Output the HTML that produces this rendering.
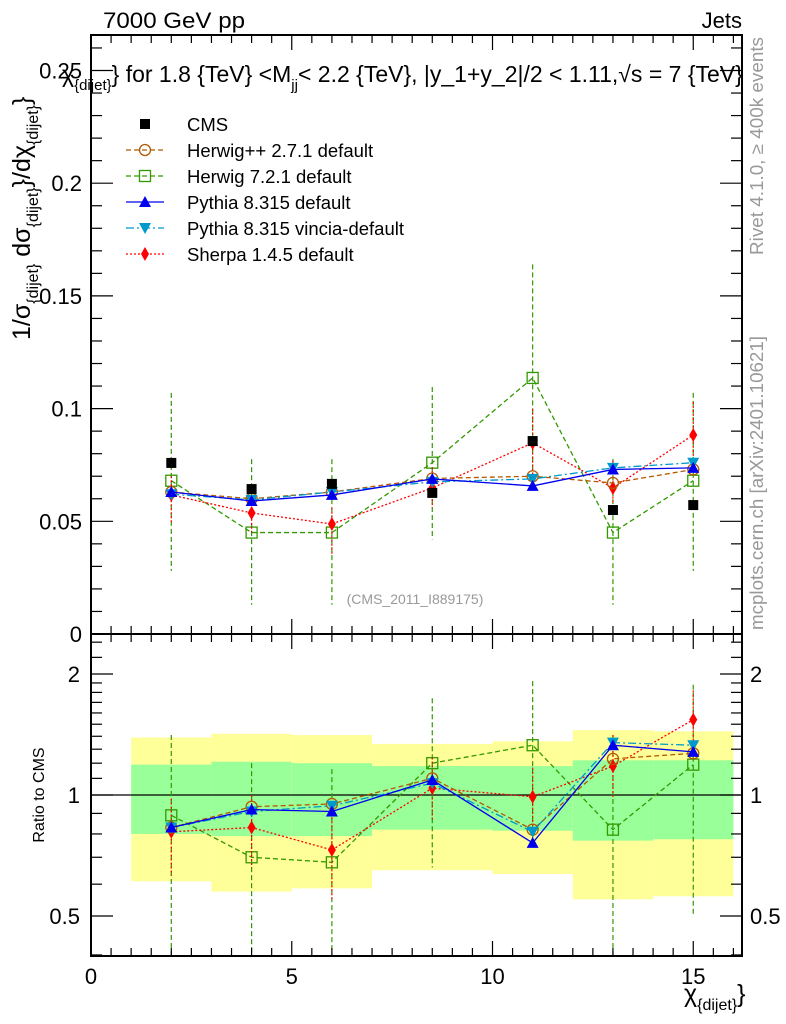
<!DOCTYPE html>
<html><head><meta charset="utf-8"><style>
body{margin:0;background:#fff}
svg{display:block;font-family:"Liberation Sans",sans-serif}
</style></head><body>
<svg id="chart" width="786" height="1024" viewBox="0 0 786 1024" xmlns="http://www.w3.org/2000/svg">
<g id="bands"></g>
<g id="marks"></g>
<g id="axes"></g>
<text x="103" y="28" font-size="22" textLength="142" lengthAdjust="spacingAndGlyphs">7000 GeV pp</text>
<text x="742" y="28" font-size="22" text-anchor="end">Jets</text>
<text x="62" y="82" font-size="23">χ<tspan font-size="15" dy="8">{dijet}</tspan><tspan dy="-8">}   for 1.8 {TeV} &lt;M</tspan><tspan font-size="15" dy="8">jj</tspan><tspan dy="-8">&lt; 2.2 {TeV}, |y_1+y_2|/2 &lt; 1.11,√s = 7 {TeV}</tspan></text>
<text transform="translate(30,340) rotate(-90)" font-size="25">1/σ<tspan font-size="16" dy="8">{dijet}</tspan><tspan dy="-8"> dσ</tspan><tspan font-size="16" dy="8">{dijet}</tspan><tspan dy="-8">}/dχ</tspan><tspan font-size="16" dy="8">{dijet}</tspan><tspan dy="-8">}</tspan></text>
<text transform="translate(44,795) rotate(-90)" font-size="16" text-anchor="middle">Ratio to CMS</text>
<text x="684" y="1002" font-size="25">χ<tspan font-size="16" dy="8">{dijet}</tspan><tspan dy="-8">}</tspan></text>
<text transform="translate(763,255) rotate(-90)" font-size="18" fill="#999" textLength="218" lengthAdjust="spacingAndGlyphs">Rivet 4.1.0, ≥ 400k events</text>
<text transform="translate(763,630) rotate(-90)" font-size="18" fill="#999" textLength="294" lengthAdjust="spacingAndGlyphs">mcplots.cern.ch [arXiv:2401.10621]</text>
<text x="415" y="604" font-size="14" fill="#999" text-anchor="middle">(CMS_2011_I889175)</text>
<g id="legend"></g>
</svg>
<script>
const xPoints=[2,4,6,8.5,11,13,15];
const binEdges=[1,3,5,7,10,12,14,16];
const cms=[0.0759,0.0643,0.0666,0.0626,0.0856,0.055,0.0572];
const herwigpp=[0.063,0.060,0.063,0.069,0.070,0.067,0.073];
const herwig7=[0.068,0.045,0.045,0.076,0.1136,0.045,0.068];
const herwig7Up=[0.107,0.0776,0.0776,0.1096,0.164,0.0776,0.107];
const herwig7Dn=[0.028,0.013,0.013,0.042,0.065,0.013,0.028];
const pythia=[0.063,0.059,0.0617,0.0688,0.0657,0.073,0.0737];
const vincia=[0.062,0.0595,0.063,0.0675,0.0688,0.0737,0.076];
const sherpa=[0.0617,0.0537,0.0488,0.0648,0.0848,0.0648,0.0883];
const sherpaUp=[0.070,0.060,0.056,0.074,0.100,0.077,0.103];
const sherpaDn=[0.049,0.045,0.035,0.056,0.070,0.058,0.072];
const rHerwigpp=[0.83,0.935,0.95,1.10,0.82,1.23,1.27];
const rHerwig7=[0.89,0.70,0.68,1.20,1.33,0.82,1.19];
const rHerwig7Up=[1.41,1.20,1.16,1.74,1.92,1.41,1.88];
const rHerwig7Dn=[0.3,0.3,0.3,0.66,0.74,0.3,0.5];
const rPythia=[0.83,0.92,0.91,1.09,0.76,1.33,1.28];
const rVincia=[0.83,0.91,0.94,1.07,0.81,1.35,1.33];
const rSherpa=[0.81,0.83,0.73,1.04,0.99,1.18,1.54];
const rSherpaUp=[0.98,1.0,0.9,1.24,1.17,1.41,1.82];
const rSherpaDn=[0.63,0.66,0.55,0.86,0.82,0.98,1.3];
const yellowTop=[1.39,1.42,1.41,1.34,1.36,1.45,1.44];
const yellowBot=[0.61,0.575,0.586,0.65,0.636,0.55,0.56];
const greenTop=[1.19,1.21,1.20,1.18,1.18,1.22,1.22];
const greenBot=[0.80,0.79,0.79,0.82,0.815,0.77,0.776];
const xTicks=[0,5,10,15];
const yTicks=[0,0.05,0.1,0.15,0.2,0.25];
const yTickLabels=["0","0.05","0.1","0.15","0.2","0.25"];
const rTicks=[0.5,1,2];
const rTickLabels=["0.5","1","2"];

const NS="http://www.w3.org/2000/svg";
const L=91,R=742,T=35,MB=634,RB=956;
const X=v=>L+v*40.15;
const Y=v=>MB-v*2254;
const RY=v=>795-Math.log2(v)*121;
const clampR=y=>Math.max(634,Math.min(RB,y));
function el(p,tag,a){const e=document.createElementNS(NS,tag);for(const k in a)e.setAttribute(k,a[k]);p.appendChild(e);return e;}
const bands=document.getElementById('bands'),marks=document.getElementById('marks'),axes=document.getElementById('axes'),leg=document.getElementById('legend');

for(let i=0;i<yellowTop.length;i++){
  let b=el(bands,'rect',{x:X(binEdges[i]),width:X(binEdges[i+1])-X(binEdges[i]),y:RY(yellowTop[i]),height:RY(yellowBot[i])-RY(yellowTop[i]),fill:'#ffff99'});
  
  
  let g=el(bands,'rect',{x:X(binEdges[i]),width:X(binEdges[i+1])-X(binEdges[i]),y:RY(greenTop[i]),height:RY(greenBot[i])-RY(greenTop[i]),fill:'#99ff99'});
  
  
}
let one=el(bands,'line',{x1:L,x2:R,y1:RY(1),y2:RY(1),stroke:'#000','stroke-width':1.3});



function marker(p,type,x,y,c){
  let m;
  if(type==='circle')m=el(p,'circle',{cx:x,cy:y,r:5.5,fill:'none',stroke:c,'stroke-width':1.3});
  else if(type==='osquare')m=el(p,'rect',{x:x-5.5,y:y-5.5,width:11,height:11,fill:'none',stroke:c,'stroke-width':1.3});
  else if(type==='square')m=el(p,'rect',{x:x-5,y:y-5,width:10,height:10,fill:c});
  else if(type==='tri')m=el(p,'path',{d:`M${x},${y-6}L${x+6},${y+5}L${x-6},${y+5}Z`,fill:c});
  else if(type==='itri')m=el(p,'path',{d:`M${x},${y+6}L${x+6},${y-5}L${x-6},${y-5}Z`,fill:c});
  else m=el(p,'path',{d:`M${x},${y-7}L${x+4},${y}L${x},${y+7}L${x-4},${y}Z`,fill:c});
  
  
}
function series(vals,ty,clip,type,c,dash,up,dn,name){
  const g=el(marks,'g',{});
  
  
  const pts=vals.map((v,i)=>[X(xPoints[i]),ty(v)]);
  if(up)up.forEach((u,i)=>{let e=el(g,'line',{x1:pts[i][0],x2:pts[i][0],y1:clip(ty(u)),y2:clip(ty(dn[i])),stroke:c,'stroke-width':1.2,'stroke-dasharray':dash});
    
    });
  if(type!=='square'){let pl=el(g,'polyline',{points:pts.map(p=>p.join(',')).join(' '),fill:'none',stroke:c,'stroke-width':1.3,'stroke-dasharray':dash});
    
    }
  pts.forEach(p=>marker(g,type,p[0],p[1],c));
}
const clampM=y=>Math.max(T,Math.min(MB,y));
series(herwig7,Y,clampM,'osquare','#339900','5,3',herwig7Up,herwig7Dn,'herwig7-series');
series(sherpa,Y,clampM,'diamond','#ff0000','2,2',sherpaUp,sherpaDn,'sherpa-series');
series(herwigpp,Y,clampM,'circle','#b35900','5,3',null,null,'herwigpp-series');
series(vincia,Y,clampM,'itri','#0099cc','8,3,2,3',null,null,'vincia-series');
series(pythia,Y,clampM,'tri','#0000ee','',null,null,'pythia-series');
series(cms,Y,clampM,'square','#000','',null,null,'cms-series');
series(rHerwig7,RY,clampR,'osquare','#339900','5,3',rHerwig7Up,rHerwig7Dn,'ratio-herwig7');
series(rSherpa,RY,clampR,'diamond','#ff0000','2,2',rSherpaUp,rSherpaDn,'ratio-sherpa');
series(rHerwigpp,RY,clampR,'circle','#b35900','5,3',null,null,'ratio-herwigpp');
series(rVincia,RY,clampR,'itri','#0099cc','8,3,2,3',null,null,'ratio-vincia');
series(rPythia,RY,clampR,'tri','#0000ee','',null,null,'ratio-pythia');

[[T,MB],[MB,RB]].forEach(([a,b])=>{let f=el(axes,'rect',{x:L,y:a,width:R-L,height:b-a,fill:'none',stroke:'#000','stroke-width':2});
  
  });
function line(x1,y1,x2,y2){el(axes,'line',{x1,y1,x2,y2,stroke:'#000','stroke-width':1.2});}
function txt(x,y,s,anc,fs){let t=el(axes,'text',{x,y,'text-anchor':anc,'font-size':fs});t.textContent=s;
  
  }
for(let v=0;v<=16;v+=0.5){const major=xTicks.includes(v);const len=major?15:8;const x=X(v);
  line(x,MB,x,MB-len);line(x,T,x,T+len);line(x,MB,x,MB+len);line(x,RB,x,RB-len);}
xTicks.forEach(v=>txt(X(v),984,String(v),'middle',22));
for(let k=0;k<=26;k++){const v=k*0.01;const major=k%5===0;const len=major?22:11;const y=Y(v);
  line(L,y,L+len,y);line(R,y,R-len,y);}
yTicks.forEach((v,i)=>txt(82,Y(v)+8,yTickLabels[i],'end',22));
const rMinor=[0.4,0.6,0.7,0.8,0.9,1.1,1.2,1.3,1.4,1.5,1.6,1.7,1.8,1.9,2.2,2.4];
rMinor.forEach(v=>{const y=RY(v);line(L,y,L+11,y);line(R,y,R-11,y);});
rTicks.forEach((v,i)=>{const y=RY(v);line(L,y,L+22,y);line(R,y,R-22,y);
  txt(80,y+8,rTickLabels[i],'end',22);txt(750,y+8,rTickLabels[i],'start',22);});

const legItems=[['CMS','square','#000',''],['Herwig++ 2.7.1 default','circle','#b35900','5,3'],['Herwig 7.2.1 default','osquare','#339900','5,3'],['Pythia 8.315 default','tri','#0000ee',''],['Pythia 8.315 vincia-default','itri','#0099cc','8,3,2,3'],['Sherpa 1.4.5 default','diamond','#ff0000','2,2']];
legItems.forEach((it,i)=>{const y=124+i*26;const g=el(leg,'g',{});
  
  
  if(it[1]!=='square')el(g,'line',{x1:126,x2:164,y1:y,y2:y,stroke:it[2],'stroke-width':1.3,'stroke-dasharray':it[3]});
  marker(g,it[1],145,y,it[2]);
  const t=el(g,'text',{x:187,y:y+7,'font-size':18.5});t.textContent=it[0];});
</script>
</body></html>
